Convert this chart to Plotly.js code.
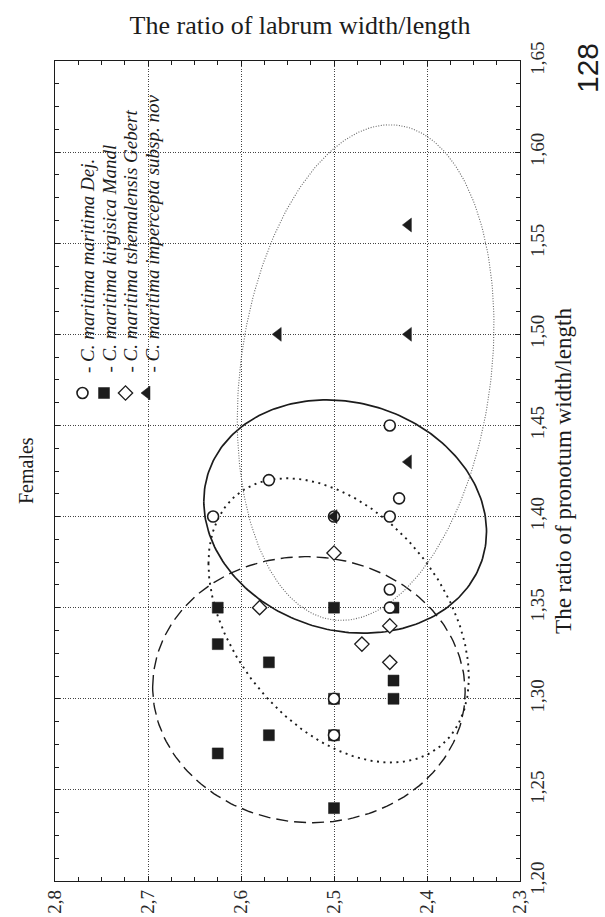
<!DOCTYPE html>
<html><head><meta charset="utf-8">
<script src="https://cdn.plot.ly/plotly-3.0.1.min.js"></script>
<style>html,body{margin:0;padding:0;background:#fff}</style>
</head><body><div id="chart" style="width:605px;height:917px"></div>
<script>
// ---- data (x = ratio of labrum width/length, y = ratio of pronotum width/length)
const seriesNames = ['C. maritima maritima Dej.', 'C. maritima kirgisica Mandl', 'C. maritima tshemalensis Gebert', 'C. maritima impercepta subsp. nov'];
const circX = [2.44, 2.57, 2.43, 2.63, 2.50, 2.44, 2.44, 2.44, 2.50, 2.50];
const circY = [1.45, 1.42, 1.41, 1.40, 1.40, 1.40, 1.36, 1.35, 1.30, 1.28];
const sqX = [2.625, 2.50, 2.436, 2.625, 2.57, 2.436, 2.436, 2.57, 2.625, 2.50, 2.50, 2.50];
const sqY = [1.35, 1.35, 1.35, 1.33, 1.32, 1.31, 1.30, 1.28, 1.27, 1.24, 1.30, 1.28];
const diaX = [2.50, 2.58, 2.44, 2.47, 2.44];
const diaY = [1.38, 1.35, 1.34, 1.33, 1.32];
const triX = [2.42, 2.56, 2.42, 2.42, 2.50];
const triY = [1.56, 1.50, 1.50, 1.43, 1.40];
// ellipse parameters per series (centre, half-extent in x and y, correlation)
const ellCX = [2.488, 2.527, 2.495, 2.466];
const ellCY = [1.400, 1.305, 1.343, 1.479];
const ellRX = [0.152, 0.168, 0.140, 0.138];
const ellRY = [0.064, 0.073, 0.078, 0.136];
const ellRho = [0.13, 0.02, 0.40, -0.19];
const xTickVals = [2.3, 2.4, 2.5, 2.6, 2.7, 2.8];
const yTickVals = [1.20, 1.25, 1.30, 1.35, 1.40, 1.45, 1.50, 1.55, 1.60, 1.65];

const SERIF = 'Liberation Serif, Times New Roman, serif';
const INK = '#1c1c1c';

function ellipse(i) {
  const xs = [], ys = [];
  const phi = Math.acos(ellRho[i]);
  for (let k = 0; k <= 240; k++) {
    const t = 2 * Math.PI * k / 240;
    xs.push(ellCX[i] + ellRX[i] * Math.cos(t));
    ys.push(ellCY[i] + ellRY[i] * Math.cos(t - phi));
  }
  return {xs, ys};
}
const ellStyles = [
  {color: INK, width: 1.7, dash: 'solid'},
  {color: INK, width: 1.4, dash: '12px,6px'},
  {color: INK, width: 1.9, dash: '2px,4.5px'},
  {color: '#666', width: 1.1, dash: '1px,1.6px'}
];
const traces = [];
for (let i = 0; i < 4; i++) {
  const e = ellipse(i);
  traces.push({x: e.xs, y: e.ys, mode: 'lines', line: ellStyles[i], hoverinfo: 'skip', showlegend: false});
}
const markerSpecs = [
  {symbol: 'circle', size: 11, color: '#fff', line: {color: INK, width: 1.6}},
  {symbol: 'square', size: 11, color: INK, line: {color: INK, width: 0.5}},
  {symbol: 'diamond', size: 11, color: '#fff', line: {color: INK, width: 1.3}},
  {symbol: 'triangle-left', size: 12, color: INK, line: {color: INK, width: 0.5}}
];
// draw order: squares, circles, diamonds, triangles
traces.push({x: sqX, y: sqY, mode: 'markers', marker: markerSpecs[1], name: seriesNames[1], showlegend: false});
traces.push({x: circX, y: circY, mode: 'markers', marker: markerSpecs[0], name: seriesNames[0], showlegend: false});
traces.push({x: diaX, y: diaY, mode: 'markers', marker: markerSpecs[2], name: seriesNames[2], showlegend: false});
traces.push({x: triX, y: triY, mode: 'markers', marker: markerSpecs[3], name: seriesNames[3], showlegend: false});

// rotated legend (markers on an overlay axis spanning the plot area)
const L = 55, R = 520, T = 61, B = 881;
const px2x = px => (px - L) / (R - L);
const py2y = py => (B - py) / (B - T);
const legTextPx = [87, 108.5, 130, 151.5];
const legMarkPy = 393, legTextPy = 375;
const annotations = [];
for (let i = 0; i < 4; i++) {
  traces.push({x: [px2x(legTextPx[i] - 4.5)], y: [py2y(legMarkPy)], xaxis: 'x2', yaxis: 'y2',
    mode: 'markers', marker: markerSpecs[i], hoverinfo: 'skip', showlegend: false});
  annotations.push({xref: 'paper', yref: 'paper', x: px2x(legTextPx[i]), y: py2y(legTextPy),
    xanchor: 'center', yanchor: 'bottom', textangle: -90, showarrow: false,
    text: '- <i>' + seriesNames[i] + '</i>', font: {family: SERIF, size: 19, color: INK}});
}
annotations.push({xref: 'paper', yref: 'paper', x: px2x(26), y: 0.5, xanchor: 'center', yanchor: 'middle',
  textangle: -90, showarrow: false, text: 'Females', font: {family: SERIF, size: 20, color: INK}});
annotations.push({xref: 'paper', yref: 'paper', x: px2x(587), y: py2y(68), xanchor: 'center', yanchor: 'middle',
  textangle: -90, showarrow: false, text: '128', font: {family: 'Liberation Sans, Arial, sans-serif', size: 30, color: INK}});

const axisCommon = {
  showline: true, linecolor: INK, linewidth: 1.3, mirror: 'allticks',
  ticks: 'inside', ticklen: 5, tickcolor: INK, tickwidth: 1,
  showgrid: true, gridcolor: '#444', gridwidth: 1, griddash: '1px,1.5px',
  zeroline: false, tickangle: -90,
  tickfont: {family: SERIF, size: 19, color: '#2a2a2a'}
};
const layout = {
  width: 605, height: 917,
  margin: {l: L, r: 605 - R, t: T, b: 917 - B, pad: 0},
  paper_bgcolor: '#fff', plot_bgcolor: '#fff',
  separators: ', ',
  showlegend: false,
  title: {text: 'The ratio of labrum width/length', x: 300 / 605, xanchor: 'center', xref: 'container',
    y: 1 - 25 / 917, yanchor: 'middle', yref: 'container',
    font: {family: SERIF, size: 26, color: INK}},
  xaxis: Object.assign({}, axisCommon, {
    range: [2.8, 2.3], tickvals: xTickVals, tickformat: '.1f',
    minor: {dtick: 0.025, tick0: 2.3, ticks: 'inside', ticklen: 4, tickcolor: INK, showgrid: false}
  }),
  yaxis: Object.assign({}, axisCommon, {
    side: 'right', range: [1.2, 1.65], tickvals: yTickVals, tickformat: '.2f',
    minor: {dtick: 0.0125, tick0: 1.2, ticks: 'inside', ticklen: 4, tickcolor: INK, showgrid: false},
    title: {text: 'The ratio of pronotum width/length', standoff: 7, font: {family: SERIF, size: 23, color: INK}}
  }),
  xaxis2: {overlaying: 'x', range: [0, 1], visible: false, fixedrange: true},
  yaxis2: {overlaying: 'y', range: [0, 1], visible: false, fixedrange: true},
  annotations: annotations
};
Plotly.newPlot('chart', traces, layout, {staticPlot: true, displayModeBar: false});
</script></body></html>
